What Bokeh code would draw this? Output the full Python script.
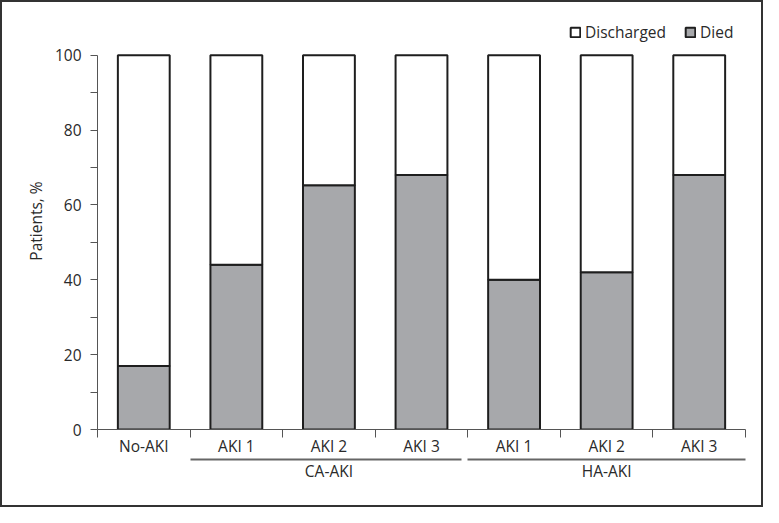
from bokeh.plotting import figure
from bokeh.models import (Range1d, FixedTicker, LinearAxis, Legend, LegendItem,
                          ColumnDataSource)
from bokeh.embed import file_html
from bokeh.resources import INLINE

# ---- data ----
categories = ["No-AKI", "AKI 1", "AKI 2", "AKI 3", "AKI 1", "AKI 2", "AKI 3"]
groups = ["", "CA-AKI", "CA-AKI", "CA-AKI", "HA-AKI", "HA-AKI", "HA-AKI"]
died = [17.0, 44.0, 65.3, 68.0, 40.0, 42.0, 68.0]
discharged = [83.0, 56.0, 34.7, 32.0, 60.0, 58.0, 32.0]
y_ticks = [0, 20, 40, 60, 80, 100]
y_minor = [10, 30, 50, 70, 90]
group_names = ["CA-AKI", "HA-AKI"]

FONT = "Open Sans"
FS = "15.5px"
TXT = "#2a2a2a"
AX = "#555555"

n = len(categories)
xc = [i + 0.5 for i in range(n)]
src = ColumnDataSource(dict(x=xc, died=died,
                            top=[d + c for d, c in zip(died, discharged)],
                            cat=categories))

p = figure(width=763, height=507, output_backend="svg", toolbar_location=None,
           x_range=Range1d(0, n), y_range=Range1d(0, 111.43),
           min_border_left=95, min_border_right=20,
           min_border_top=10, min_border_bottom=80)
p.styles = {"border": "2px solid #333"}
p.xgrid.visible = False
p.ygrid.visible = False
p.outline_line_color = None

r_died = p.vbar(x="x", width=0.56, bottom=0, top="died", source=src,
                fill_color="#a7a8ab", line_color="#1e1e1e", line_width=2)
r_dis = p.vbar(x="x", width=0.56, bottom="died", top="top", source=src,
               fill_color="white", line_color="#1e1e1e", line_width=2)

# y axis
ya = p.yaxis[0]
ya.ticker = FixedTicker(ticks=y_ticks, minor_ticks=y_minor)
ya.axis_label = "Patients, %"
ya.axis_label_text_font = FONT
ya.axis_label_text_font_style = "normal"
ya.axis_label_text_font_size = FS
ya.axis_label_text_color = TXT
ya.axis_label_standoff = 5
ya.major_label_text_font = FONT
ya.major_label_text_font_size = FS
ya.major_label_text_color = TXT
ya.major_label_standoff = 9
ya.axis_line_color = AX
ya.major_tick_line_color = AX
ya.minor_tick_line_color = AX
ya.major_tick_in = 0
ya.major_tick_out = 7
ya.minor_tick_in = 0
ya.minor_tick_out = 7
ya.bounds = (0, 100)

# x axis: labels at bar centres, ticks at the separators
xa = p.xaxis[0]
xa.ticker = FixedTicker(ticks=xc, minor_ticks=list(range(n + 1)))
xa.major_label_overrides = {x: c for x, c in zip(xc, categories)}
xa.major_tick_line_color = None
xa.minor_tick_line_color = AX
xa.minor_tick_in = 0
xa.minor_tick_out = 8
xa.major_tick_out = 3
xa.major_tick_in = 0
xa.axis_line_color = AX
xa.major_label_text_font = FONT
xa.major_label_text_font_size = FS
xa.major_label_text_color = TXT
xa.major_label_standoff = -3

# group axis: its rule is the underline, a white minor tick splits the groups
gpos, gstart, gend = [], [], []
for g in group_names:
    idx = [i for i, gg in enumerate(groups) if gg == g]
    gpos.append((idx[0] + idx[-1] + 1) / 2)
    gstart.append(idx[0])
    gend.append(idx[-1] + 1)
gap = gend[0] - 0.035
ga = LinearAxis(ticker=FixedTicker(ticks=gpos, minor_ticks=[gap]),
                major_label_overrides={x: g for x, g in zip(gpos, group_names)},
                bounds=(gstart[0], gend[-1]))
ga.axis_line_color = "#666666"
ga.axis_line_width = 2
ga.major_tick_line_color = None
ga.major_tick_out = 0
ga.major_tick_in = 0
ga.minor_tick_line_color = "white"
ga.minor_tick_line_width = 6
ga.minor_tick_in = 3
ga.minor_tick_out = 3
ga.major_label_text_font = FONT
ga.major_label_text_font_size = FS
ga.major_label_text_color = TXT
ga.major_label_standoff = -3
p.add_layout(ga, "below")

legend = Legend(items=[LegendItem(label="Discharged", renderers=[r_dis]),
                       LegendItem(label="Died", renderers=[r_died])],
                orientation="horizontal", location=(472, 386),
                glyph_width=12, glyph_height=12, label_standoff=4, spacing=18,
                padding=0, margin=0, border_line_color=None,
                background_fill_alpha=0, label_height=16,
                label_text_font=FONT, label_text_font_size=FS,
                label_text_color=TXT)
p.add_layout(legend, "center")

open("out.html", "w").write(file_html(p, INLINE))
